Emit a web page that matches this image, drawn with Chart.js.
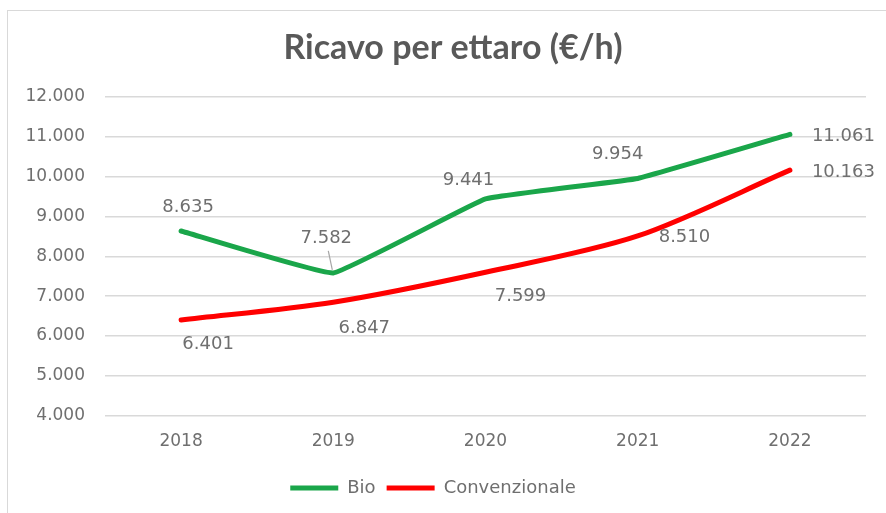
<!DOCTYPE html>
<html>
<head>
<meta charset="utf-8">
<script src="https://cdn.jsdelivr.net/npm/chart.js@4"></script>
<style>
  html, body { margin: 0; padding: 0; background: #fff; }
  #box { position: absolute; left: 7px; top: 10px; width: 890px; height: 520px; border: 1px solid #d9d9d9; }
  #wrap { position: absolute; left: 0; top: 0; width: 886px; height: 513px; }
</style>
</head>
<body>
<div id="box"></div>
<div id="wrap"><canvas id="lineChart" width="886" height="513"></canvas></div>
<script>
// dati
const years = ['2018', '2019', '2020', '2021', '2022'];
const bio = [8635, 7582, 9441, 9954, 11061];
const convenzionale = [6401, 6847, 7599, 8510, 10163];
const yMin = 4000;
const yMax = 12000;
const yStep = 1000;
const titolo = 'Ricavo per ettaro (€/h)';

// posizione delle etichette rispetto al punto (px)
const bioLabelPos = [[7, -24, 'center'], [-7, -35, 'center'], [-17, -19, 'center'], [-20, -24, 'center'], [22, 2, 'left']];
const convLabelPos = [[27, 24, 'center'], [31, 26, 'center'], [35, 24, 'center'], [21, 1, 'left'], [22, 2, 'left']];

function fmt(v) {
    return String(v).replace(/\B(?=(\d{3})+(?!\d))/g, '.');
}

// titolo centrato sul riquadro (non sul canvas)
const titlePlugin = {
    id: 'titlePlugin',
    afterDraw(chart) {
        const ctx = chart.ctx;
        ctx.save();
        ctx.font = 'bold 34px Lato';
        ctx.fillStyle = '#595959';
        ctx.textAlign = 'center';
        ctx.textBaseline = 'middle';
        ctx.fillText(titolo, 453, 48);
        ctx.restore();
    }
};

const dataLabels = {
    id: 'dataLabels',
    afterDatasetsDraw(chart) {
        const ctx = chart.ctx;
        const allPos = [bioLabelPos, convLabelPos];
        ctx.save();
        ctx.font = '18px "DejaVu Sans"';
        ctx.fillStyle = '#6f6f6f';
        ctx.textBaseline = 'middle';
        chart.data.datasets.forEach(function (ds, i) {
            const meta = chart.getDatasetMeta(i);
            meta.data.forEach(function (pt, j) {
                const p = allPos[i][j];
                ctx.textAlign = p[2];
                ctx.fillText(fmt(ds.data[j]), pt.x + p[0], pt.y + p[1]);
                // linea guida per 7.582
                if (i === 0 && j === 1) {
                    ctx.strokeStyle = '#a6a6a6';
                    ctx.lineWidth = 1.2;
                    ctx.beginPath();
                    ctx.moveTo(pt.x + p[0] + 2, pt.y + p[1] + 13);
                    ctx.lineTo(pt.x - 1, pt.y - 3);
                    ctx.stroke();
                }
            });
        });
        ctx.restore();
    }
};

const ctx = document.getElementById('lineChart').getContext('2d');
const chart = new Chart(ctx, {
    type: 'line',
    data: {
        labels: years,
        datasets: [{
            label: 'Bio',
            data: bio,
            borderColor: '#1aa64a',
            backgroundColor: '#1aa64a',
            borderWidth: 5,
            borderCapStyle: 'round',
            tension: 0.08,
            pointRadius: 0,
            fill: false
        }, {
            label: 'Convenzionale',
            data: convenzionale,
            borderColor: '#ff0000',
            backgroundColor: '#ff0000',
            borderWidth: 5,
            borderCapStyle: 'round',
            tension: 0.3,
            pointRadius: 0,
            fill: false
        }]
    },
    options: {
        responsive: false,
        animation: false,
        layout: { padding: { top: 97, right: 20, bottom: 6, left: 0 } },
        plugins: {
            title: { display: false },
            legend: {
                position: 'bottom',
                labels: {
                    usePointStyle: true,
                    pointStyle: 'line',
                    pointStyleWidth: 48,
                    color: '#6f6f6f',
                    font: { family: 'DejaVu Sans', size: 18 },
                    padding: 11
                }
            },
            tooltip: { enabled: false }
        },
        scales: {
            x: {
                offset: true,
                grid: { display: false, drawTicks: false },
                border: { display: false },
                ticks: { color: '#6f6f6f', font: { family: 'DejaVu Sans', size: 17 }, padding: 16 }
            },
            y: {
                min: yMin,
                max: yMax,
                afterFit: function (scale) { scale.width = 105; },
                grid: { color: '#d9d9d9', lineWidth: 1.5, drawTicks: false },
                border: { display: false },
                ticks: {
                    stepSize: yStep,
                    color: '#6f6f6f',
                    font: { family: 'DejaVu Sans', size: 17 },
                    padding: 20,
                    callback: function (v) { return fmt(v); }
                }
            }
        }
    },
    plugins: [dataLabels, titlePlugin]
});
</script>
</body>
</html>
